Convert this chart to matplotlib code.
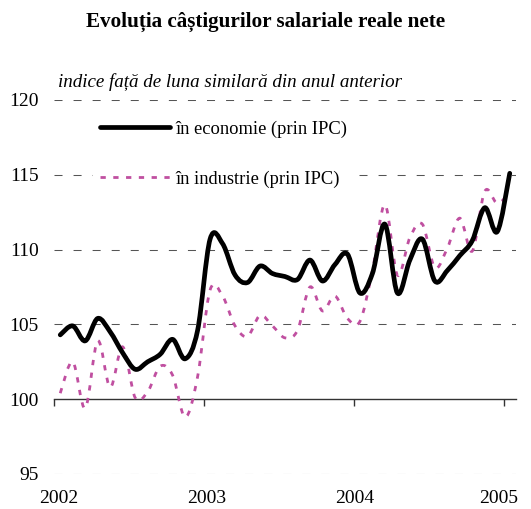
import matplotlib
matplotlib.use('Agg')
from matplotlib import pyplot as plt
from matplotlib.path import Path
from matplotlib.patches import PathPatch
from matplotlib.lines import Line2D
import matplotlib.transforms as mtransforms

plt.rcParams['font.family'] = ['Liberation Serif', 'DejaVu Serif']

# Indici lunari, ian 2002 - ian 2005 (luna similara din anul anterior = 100)
economie = [104.3, 104.9, 103.9, 105.4, 104.5, 103.1, 102.0, 102.5, 103.0, 104.0,
            102.7, 104.6, 110.7, 110.4, 108.3, 107.8, 108.9, 108.4, 108.2, 108.0,
            109.3, 107.9, 109.0, 109.7, 107.1, 108.4, 111.7, 107.1, 109.3, 110.7,
            107.9, 108.6, 109.6, 110.6, 112.8, 111.2, 115.1]
industrie = [100.4, 102.5, 99.4, 103.9, 100.8, 103.5, 100.1, 100.5, 102.2, 101.6,
             98.8, 101.5, 107.3, 106.9, 104.9, 104.2, 105.6, 104.9, 104.1, 104.6,
             107.5, 105.9, 106.9, 105.4, 105.2, 108.6, 113.0, 108.3, 110.8, 111.7,
             108.8, 110.1, 112.1, 109.9, 113.9, 113.1, 113.8]
ani = ['2002', '2003', '2004', '2005']
luni = list(range(len(economie)))


def curba_neteda(xs, ys):
    # linie netezita ca in Excel: Bezier cubic prin fiecare punct
    verts = [(xs[0], ys[0])]
    codes = [Path.MOVETO]
    n = len(xs)
    for i in range(n - 1):
        x0, y0 = (xs[i - 1], ys[i - 1]) if i > 0 else (xs[i], ys[i])
        x1, y1 = xs[i], ys[i]
        x2, y2 = xs[i + 1], ys[i + 1]
        x3, y3 = (xs[i + 2], ys[i + 2]) if i + 2 < n else (x2, y2)
        verts += [(x1 + (x2 - x0) / 6, y1 + (y2 - y0) / 6),
                  (x2 - (x3 - x1) / 6, y2 - (y3 - y1) / 6),
                  (x2, y2)]
        codes += [Path.CURVE4] * 3
    return Path(verts, codes)


fig = plt.figure(figsize=(5.31, 5.09), dpi=100)
ax = fig.add_axes([54 / 531, 1 - 474 / 509, 462 / 531, 374 / 509])

ax.set_xlim(-0.5, len(luni) - 0.5)
ax.set_ylim(95, 120)

# grila orizontala punctata
for v in [95, 105, 110, 115, 120]:
    ax.axhline(v, color='#555555', lw=0.75, linestyle=(0, (7.7, 10.6)), zorder=1)

stil_ec = dict(color='black', lw=3.4, solid_capstyle='round')
stil_ind = dict(color='#C04FA0', lw=2.0, linestyle=(0, (1.9, 2.7)))

ax.add_patch(PathPatch(curba_neteda(luni, industrie), fill=False, zorder=3,
                       edgecolor=stil_ind['color'], lw=stil_ind['lw'],
                       linestyle=stil_ind['linestyle']))
ax.add_patch(PathPatch(curba_neteda(luni, economie), fill=False, zorder=4,
                       edgecolor='black', lw=3.4, capstyle='round', joinstyle='round'))

for s in ['top', 'right', 'left']:
    ax.spines[s].set_visible(False)
ax.spines['bottom'].set_position(('data', 100))
ax.spines['bottom'].set_color('#333333')
ax.spines['bottom'].set_linewidth(1.0)

pozitii_ani = [-0.5 + 12 * k for k in range(len(ani))]
ax.set_xticks(pozitii_ani)
ax.set_xticklabels([])
ax.tick_params(axis='x', direction='out', length=5, width=1, color='#333333')

ax.set_yticks([95, 100, 105, 110, 115, 120])
ax.tick_params(axis='y', length=0, pad=11, labelsize=14)

# etichetele anilor sub axa
deplasari = [5, 3, 1, -5]
for poz, an, dx in zip(pozitii_ani, ani, deplasari):
    tr = ax.get_xaxis_transform() + mtransforms.ScaledTranslation(dx / 100, 0, fig.dpi_scale_trans)
    ax.text(poz, -0.065, an, transform=tr, ha='center', va='center', fontsize=14)

handles = [Line2D([], [], **stil_ec), Line2D([], [], **stil_ind)]
leg = ax.legend(handles, ['în economie (prin IPC)', 'în industrie (prin IPC)'],
                loc='upper left', bbox_to_anchor=(38.5 / 462, 1 - 13 / 374),
                fontsize=13.3, handlelength=3.8, handletextpad=0.3,
                labelspacing=1.78, frameon=True, fancybox=False,
                borderpad=0.4, borderaxespad=0)
leg.get_frame().set_edgecolor('none')
leg.get_frame().set_facecolor('white')
leg.get_frame().set_alpha(1)
leg.set_zorder(5)

fig.text(0.5, 1 - 22 / 509, 'Evoluția câștigurilor salariale reale nete',
         ha='center', va='center', fontsize=15.2, fontweight='bold')
fig.text(58 / 531, 1 - 82 / 509, 'indice față de luna similară din anul anterior',
         ha='left', va='center', fontsize=13.7, style='italic')

plt.savefig('out.png', dpi=100)
